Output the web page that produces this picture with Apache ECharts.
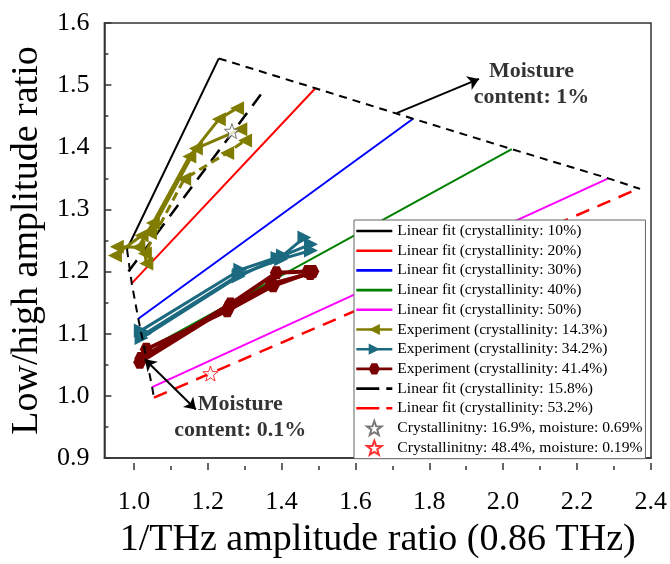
<!DOCTYPE html>
<html>
<head>
<meta charset="utf-8">
<script src="https://cdn.jsdelivr.net/npm/echarts@6/dist/echarts.min.js"></script>
<style>
  html, body { margin: 0; padding: 0; background: #fff; }
  #chart { width: 670px; height: 564px; }
</style>
</head>
<body>
<div id="chart"></div>
<script>
// Linear fits: [x, y] end points of each crystallinity line
const fit10 = [[0.962, 1.236], [1.214, 1.543]];
const fit20 = [[0.975, 1.181], [1.479, 1.495]];
const fit30 = [[0.993, 1.124], [1.747, 1.446]];
const fit40 = [[1.011, 1.073], [2.018, 1.397]];
const fit50 = [[1.031, 1.014], [2.283, 1.350]];
const fit158 = [[0.966, 1.200], [1.341, 1.494]];
const fit532 = [[1.036, 0.997], [2.368, 1.334]];

// Iso-moisture boundaries joining the ends of the fits
const edgeHigh = [[1.214, 1.543], [1.479, 1.495], [1.747, 1.446], [2.018, 1.397], [2.283, 1.350], [2.370, 1.333]];
const edgeLow = [[0.962, 1.236], [0.975, 1.181], [0.993, 1.124], [1.011, 1.073], [1.031, 1.014], [1.036, 0.997]];

// Measured runs (three repeats per sample)
const exp143a = [[0.934, 1.240], [0.993, 1.239], [1.033, 1.278], [1.133, 1.385], [1.214, 1.445], [1.264, 1.463]];
const exp143b = [[0.929, 1.226], [1.002, 1.258], [1.025, 1.262], [1.151, 1.398], [1.273, 1.429]];
const exp143c = [[1.015, 1.213], [1.011, 1.229], [1.119, 1.349], [1.237, 1.391], [1.286, 1.411]];

const exp342a = [[1.000, 1.105], [1.273, 1.203], [1.390, 1.226], [1.449, 1.255]];
const exp342b = [[1.002, 1.093], [1.268, 1.192], [1.375, 1.222], [1.467, 1.244]];
const exp342c = [[1.011, 1.100], [1.270, 1.195], [1.385, 1.220], [1.467, 1.234]];

const exp414a = [[1.000, 1.060], [1.246, 1.148], [1.372, 1.198], [1.458, 1.200]];
const exp414b = [[1.015, 1.075], [1.237, 1.137], [1.363, 1.177], [1.472, 1.200]];
const exp414c = [[0.997, 1.054], [1.241, 1.143], [1.358, 1.180], [1.465, 1.197]];

// Single validation samples
const sample169 = [[1.250, 1.426]];
const sample484 = [[1.191, 1.036]];

// Annotations
const arrowHigh = [[1.702, 1.455], [1.928, 1.510]];
const arrowLow = [[1.011, 1.059], [1.151, 0.978]];
const noteHigh = [2.072, 1.502];
const noteLow = [1.273, 0.966];

// Axis ranges; x ticks are labelled from 1.0 in steps of 0.2
const xRange = [0.9, 2.4];
const xTickStart = 1.0;
const xStep = 0.2;
const yRange = [0.9, 1.6];
const yStep = 0.1;

const FONT = 'Liberation Serif';
const STAR = 'path://M0,-10L2.35,-3.24L9.51,-3.09L3.8,1.24L5.88,8.09L0,4.4L-5.88,8.09L-3.8,1.24L-9.51,-3.09L-2.35,-3.24Z';
const HEX = 'path://M-5,-8.66L5,-8.66L10,0L5,8.66L-5,8.66L-10,0Z';
const BAR_ICON = 'path://M0,0L36,0L36,2.6L0,2.6Z';
const DASH_ICON = 'path://M0,0L23,0L23,2.6L0,2.6Z M30,0L36,0L36,2.6L30,2.6Z';

const OLIVE = '#7f7c00';
const TEAL = '#1c6a80';
const BROWN = '#7a0000';

const names = {
  f10: 'Linear fit (crystallinity: 10%)',
  f20: 'Linear fit (crystallinity: 20%)',
  f30: 'Linear fit (crystallinity: 30%)',
  f40: 'Linear fit (crystallinity: 40%)',
  f50: 'Linear fit (crystallinity: 50%)',
  e143: 'Experiment (crystallinity: 14.3%)',
  e342: 'Experiment (crystallinity: 34.2%)',
  e414: 'Experiment (crystallinity: 41.4%)',
  f158: 'Linear fit (crystallinity: 15.8%)',
  f532: 'Linear fit (crystallinity: 53.2%)',
  s169: 'Crystallinitny: 16.9%, moisture: 0.69%',
  s484: 'Crystallinitny: 48.4%, moisture: 0.19%'
};

function fitLine(name, data, color, type, width) {
  return {
    name, type: 'line', data, symbol: 'none', z: 2, silent: true,
    lineStyle: { color, width: width || 2, type: type || 'solid' },
    itemStyle: { color }
  };
}

function expLine(name, data, color, symbol, rotate, size, width, type) {
  return {
    name, type: 'line', data, symbol, symbolSize: size, symbolRotate: rotate,
    z: 3, silent: true,
    lineStyle: { color, width, type: type || 'solid' },
    itemStyle: { color }
  };
}

function arrow(data, both) {
  return {
    type: 'line', data: [], silent: true, z: 6,
    markLine: {
      silent: true, animation: false,
      symbolSize: 11,
      lineStyle: { color: '#000', width: 2, type: 'solid' },
      label: { show: false },
      data: [[
        { coord: data[0], symbol: both ? 'arrow' : 'none' },
        { coord: data[1], symbol: 'arrow' }
      ]]
    }
  };
}

function note(pos, text) {
  return {
    type: 'scatter', data: [pos], symbolSize: 0, silent: true, z: 7,
    label: {
      show: true, position: 'inside', formatter: text,
      fontFamily: FONT, fontWeight: 'bold', fontSize: 22, lineHeight: 26, color: '#000'
    }
  };
}

const series = [
  fitLine(names.f10, fit10, '#000'),
  fitLine(names.f20, fit20, '#ff0000'),
  fitLine(names.f30, fit30, '#0000ff'),
  fitLine(names.f40, fit40, '#008000'),
  fitLine(names.f50, fit50, '#ff00ff'),
  fitLine(names.f158, fit158, '#000', [14, 9], 2.5),
  fitLine(names.f532, fit532, '#ff0000', [14, 9], 2.5),
  { type: 'line', data: edgeHigh, symbol: 'none', z: 2, silent: true, lineStyle: { color: '#000', width: 2, type: [8, 6] } },
  { type: 'line', data: edgeLow, symbol: 'none', z: 4, silent: true, lineStyle: { color: '#000', width: 2, type: [8, 6] } },
  expLine(names.e143, exp143a, OLIVE, 'triangle', 90, 14, 3),
  expLine(names.e143, exp143b, OLIVE, 'triangle', 90, 14, 3),
  expLine(names.e143, exp143c, OLIVE, 'triangle', 90, 14, 3, [9, 5]),
  expLine(names.e342, exp342a, TEAL, 'triangle', -90, 14, 3),
  expLine(names.e342, exp342b, TEAL, 'triangle', -90, 14, 3),
  expLine(names.e342, exp342c, TEAL, 'triangle', -90, 14, 3),
  expLine(names.e414, exp414a, BROWN, HEX, 0, 13, 4),
  expLine(names.e414, exp414b, BROWN, HEX, 0, 13, 4),
  expLine(names.e414, exp414c, BROWN, HEX, 0, 13, 4),
  {
    name: names.s169, type: 'scatter', data: sample169, symbol: STAR, symbolSize: 15, z: 5, silent: true,
    itemStyle: { color: '#fff', borderColor: '#555', borderWidth: 1 }
  },
  {
    name: names.s484, type: 'scatter', data: sample484, symbol: STAR, symbolSize: 15, z: 5, silent: true,
    itemStyle: { color: '#fff', borderColor: '#ff0000', borderWidth: 1 }
  },
  arrow(arrowHigh, false),
  arrow(arrowLow, true),
  note(noteHigh, 'Moisture\ncontent: 1%'),
  note(noteLow, 'Moisture\ncontent: 0.1%')
];

const AXIS_COLOR = '#333';
const labelStyle = { fontFamily: FONT, fontSize: 26, color: '#000' };

// Plot frame in pixels; the second grid starts where x = xTickStart so ticks fall on 1.0, 1.2, ...
const plot = { left: 97, right: 19, top: 23, bottom: 94 };
const plotWidth = 670 - plot.left - plot.right;
const tickGridLeft = plot.left + plotWidth * (xTickStart - xRange[0]) / (xRange[1] - xRange[0]);

const chart = echarts.init(document.getElementById('chart'), null, { renderer: 'canvas' });
chart.setOption({
  animation: false,
  backgroundColor: '#fff',
  grid: [
    { left: plot.left, right: plot.right, top: plot.top, bottom: plot.bottom, show: true, borderColor: AXIS_COLOR, borderWidth: 1.5, backgroundColor: 'transparent' },
    { left: tickGridLeft, right: plot.right, top: plot.top, bottom: plot.bottom, show: false }
  ],
  xAxis: [
    {
      type: 'value', gridIndex: 0, min: xRange[0], max: xRange[1],
      name: '1/THz amplitude ratio (0.86 THz)', nameLocation: 'middle', nameGap: 63,
      nameTextStyle: { fontFamily: FONT, fontSize: 38, color: '#000' },
      axisLine: { show: true, onZero: false, lineStyle: { color: AXIS_COLOR, width: 1.5 } },
      axisTick: { show: false }, axisLabel: { show: false }, splitLine: { show: false }
    },
    {
      type: 'value', gridIndex: 1, min: xTickStart, max: xRange[1], interval: xStep,
      axisLine: { show: false },
      axisTick: { show: true, inside: true, length: 7, lineStyle: { color: AXIS_COLOR, width: 1.5 } },
      minorTick: { show: true, splitNumber: 2, length: 4, lineStyle: { color: AXIS_COLOR, width: 1.5 } },
      splitLine: { show: false },
      axisLabel: Object.assign({}, labelStyle, { margin: 19, formatter: v => v.toFixed(1) })
    }
  ],
  yAxis: [
    {
      type: 'value', gridIndex: 0, min: yRange[0], max: yRange[1], interval: yStep,
      name: 'Low/high amplitude ratio', nameLocation: 'middle', nameGap: 39,
      nameTextStyle: { fontFamily: FONT, fontSize: 38, color: '#000' },
      axisLine: { show: true, onZero: false, lineStyle: { color: AXIS_COLOR, width: 1.5 } },
      axisTick: { show: true, inside: true, length: 7, lineStyle: { color: AXIS_COLOR, width: 1.5 } },
      minorTick: { show: true, splitNumber: 2, length: 4, lineStyle: { color: AXIS_COLOR, width: 1.5 } },
      splitLine: { show: false },
      axisLabel: Object.assign({}, labelStyle, { margin: 15, formatter: v => v.toFixed(1) })
    },
    {
      type: 'value', gridIndex: 1, min: yRange[0], max: yRange[1], show: false
    }
  ],
  legend: {
    orient: 'vertical', left: 354, top: 220,
    itemWidth: 36, itemHeight: 14, itemGap: 3.7,
    padding: [3, 3, 3, 1],
    backgroundColor: '#fff', borderColor: '#666', borderWidth: 1,
    textStyle: { fontFamily: FONT, fontSize: 15.6, lineHeight: 16, color: '#000' },
    lineStyle: { width: 2.6 },
    selectedMode: false,
    data: [
      { name: names.f10, icon: BAR_ICON },
      { name: names.f20, icon: BAR_ICON },
      { name: names.f30, icon: BAR_ICON },
      { name: names.f40, icon: BAR_ICON },
      { name: names.f50, icon: BAR_ICON },
      names.e143, names.e342, names.e414,
      { name: names.f158, icon: DASH_ICON },
      { name: names.f532, icon: DASH_ICON },
      names.s169, names.s484
    ]
  },
  series
});
</script>
</body>
</html>
